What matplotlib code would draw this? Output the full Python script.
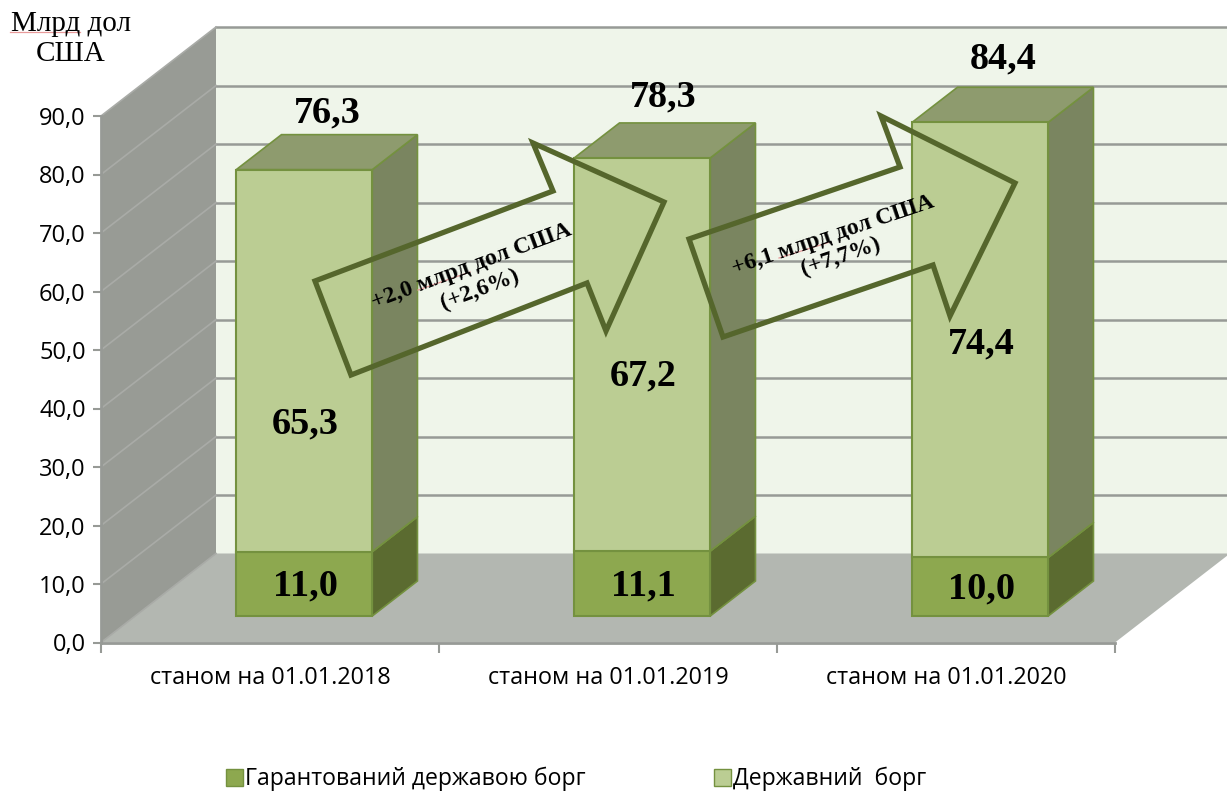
#!/usr/bin/env python3
"""Stacked pseudo-3D column chart of Ukrainian debt, 2018-2020."""

import matplotlib
matplotlib.use("Agg")
import matplotlib.pyplot as plt
from matplotlib.patches import Patch, Polygon

W, H = 1227, 791

CATEGORIES = ["станом на 01.01.2018", "станом на 01.01.2019", "станом на 01.01.2020"]
GUARANTEED = [11.0, 11.1, 10.0]
STATE = [65.3, 67.2, 74.4]
GUARANTEED_LABELS = ["11,0", "11,1", "10,0"]
STATE_LABELS = ["65,3", "67,2", "74,4"]
TOTAL_LABELS = ["76,3", "78,3", "84,4"]
Y_TICKS = [0, 10, 20, 30, 40, 50, 60, 70, 80, 90]

# pixel geometry of the fake 3D projection
X0_PX, Y0_PX = 101, 642.5
PX_PER_CAT = 338
PX_PER_VAL = 5.85
DEPTH_X = 115 / PX_PER_CAT  # full depth of the box, in data units
DEPTH_Y = 89 / PX_PER_VAL
BAR_D0 = 0.298  # where the bars start in the depth
BAR_D1 = 0.691
BAR_WIDTH = 136 / PX_PER_CAT

# hand placed labels in the original, so pixel centres
STATE_LABEL_PX = [(305, 424), (643, 376), (981, 344)]
TOTAL_LABEL_PX = [(327, 113), (663, 97), (1003, 59)]

WALL_BACK = "#eff5ea"
WALL_SIDE = "#989b95"
FLOOR = "#b3b7b1"
GRID = "#979a96"
GRID_SIDE = "#a9aba7"
LIGHT = ("#bbcd93", "#7a8560", "#8e9b6e", "#74913f")
DARK = ("#8da84f", "#5b6b30", "#6f8540", "#74913f")
ARROW = "#55662c"
SANS = "Open Sans"
SERIF = "Liberation Serif"


def from_px(px, py):
    return (px - X0_PX) / PX_PER_CAT, (Y0_PX - py) / PX_PER_VAL


def depth(x, y, d):
    return x + DEPTH_X * d, y + DEPTH_Y * d


def face(ax, pts, color, edge=None, lw=0, z=1):
    ax.add_patch(Polygon(pts, closed=True, facecolor=color, edgecolor=edge or color,
                         linewidth=lw, joinstyle="miter", zorder=z))


def draw_box(ax, i, bottom, height, colors, z):
    front, side, top, edge = colors
    left = i + 0.5 - BAR_WIDTH / 2
    right = i + 0.5 + BAR_WIDTH / 2
    x0, y0 = depth(0, bottom, BAR_D0)
    ytop = y0 + height
    dx = DEPTH_X * (BAR_D1 - BAR_D0)
    dy = DEPTH_Y * (BAR_D1 - BAR_D0)
    face(ax, [(right + x0, y0), (right + x0 + dx, y0 + dy),
              (right + x0 + dx, ytop + dy), (right + x0, ytop)], side, edge, 1.2, z)
    face(ax, [(left + x0, ytop), (right + x0, ytop),
              (right + x0 + dx, ytop + dy), (left + x0 + dx, ytop + dy)], top, edge, 1.2, z)
    ax.bar(i + 0.5 + x0, height, width=BAR_WIDTH, bottom=y0, color=front,
           edgecolor=edge, linewidth=1.5, zorder=z + 0.1)
    return i + 0.5 + x0, y0 + height / 2


def draw_arrow(ax, xs, ys):
    pts = [from_px(x, y) for x, y in zip(xs, ys)]
    ax.add_patch(Polygon(pts, closed=True, fill=False, edgecolor=ARROW, linewidth=3.8,
                         joinstyle="miter", zorder=6))


def squiggle(ax, x0, y0, x1, y1):
    a, b = from_px(x0, y0), from_px(x1, y1)
    ax.plot([a[0], b[0]], [a[1], b[1]], color="#e89a9a", lw=0.9, zorder=8)


def value_label(ax, x, y, text):
    ax.text(x, y, text, family=SERIF, weight="bold", fontsize=27.5,
            ha="center", va="center", zorder=9)


def main():
    fig = plt.figure(figsize=(W / 100, H / 100), dpi=100, facecolor="white")
    ax = fig.add_axes([0, 0, 1, 1])
    ax.set_xlim(-X0_PX / PX_PER_CAT, (W - X0_PX) / PX_PER_CAT)
    ax.set_ylim((Y0_PX - H) / PX_PER_VAL, Y0_PX / PX_PER_VAL)
    ax.patch.set_visible(False)

    n = len(CATEGORIES)
    top = Y_TICKS[-1]

    # walls and floor
    bx, by = depth(0, 0, 1)
    face(ax, [(bx, by), (bx + n, by), (bx + n, by + top), (bx, by + top)], WALL_BACK)
    face(ax, [(0, 0), (bx, by), (bx, by + top), (0, top)], WALL_SIDE)
    face(ax, [(0, 0), (n, 0), (bx + n, by), (bx, by)], FLOOR)

    for v in Y_TICKS:
        if v > 0:
            ax.plot([bx, bx + n], [by + v, by + v], color=GRID, lw=1.8, zorder=1.5)
        ax.plot([0, bx], [v, by + v], color=GRID_SIDE, lw=1.2, zorder=1.5)

    # columns: the lower box goes first so the upper one hides its top face
    for i in range(n):
        cx, cy = draw_box(ax, i, 0, GUARANTEED[i], DARK, 2)
        value_label(ax, cx + 1 / PX_PER_CAT, cy - 2 / PX_PER_VAL, GUARANTEED_LABELS[i])
        draw_box(ax, i, GUARANTEED[i], STATE[i], LIGHT, 3)
        value_label(ax, *from_px(*STATE_LABEL_PX[i]), STATE_LABELS[i])
        value_label(ax, *from_px(*TOTAL_LABEL_PX[i]), TOTAL_LABELS[i])

    # growth arrows and captions
    draw_arrow(ax, [315, 553, 533, 664, 606, 587, 351], [281, 191, 143, 202, 331, 283, 375])
    draw_arrow(ax, [689, 900, 881, 1015, 950, 933, 723], [239, 167, 116, 183, 316, 265, 337])
    x, y = from_px(476, 278)
    ax.text(x, y, "+2,0 млрд дол США\n(+2,6%)", family=SERIF, weight="bold", fontsize=17,
            rotation=20.4, rotation_mode="anchor", ha="center", va="center",
            linespacing=1.25, zorder=9)
    x, y = from_px(837, 246)
    ax.text(x, y, "+6,1 млрд дол США\n(+7,7%)", family=SERIF, weight="bold", fontsize=17,
            rotation=18.6, rotation_mode="anchor", ha="center", va="center",
            linespacing=1.15, zorder=9)

    # unit caption
    x, y = from_px(71, 39)
    ax.text(x, y, "Млрд дол\nСША", family=SERIF, fontsize=21, ha="center", va="center",
            linespacing=1.2, zorder=9)
    squiggle(ax, 10, 32, 80, 32)
    squiggle(ax, 418, 290, 470, 272)
    squiggle(ax, 779, 258, 830, 242)

    # axes drawn on the front plane
    for name in ("top", "right"):
        ax.spines[name].set_visible(False)
    ax.spines["left"].set_position(("data", 0))
    ax.spines["left"].set_bounds(0, top)
    ax.spines["bottom"].set_position(("data", 0))
    ax.spines["bottom"].set_bounds(0, n)
    for name in ("left", "bottom"):
        ax.spines[name].set_color(GRID)
        ax.spines[name].set_linewidth(2)
        ax.spines[name].set_zorder(2)

    ax.set_yticks(Y_TICKS)
    ax.set_yticklabels([f"{v:.1f}".replace(".", ",") for v in Y_TICKS], family=SANS, fontsize=17)
    ax.tick_params(axis="y", direction="out", length=6, width=1.5, color=GRID, pad=5)
    ax.set_xticks(range(n + 1))
    ax.set_xticklabels([])
    ax.tick_params(axis="x", which="major", direction="out", length=7, width=1.5, color=GRID)
    ax.set_xticks([i + 0.5 for i in range(n)], minor=True)
    ax.set_xticklabels(CATEGORIES, minor=True, family=SANS, fontsize=16.8)
    ax.tick_params(axis="x", which="minor", length=0, pad=17)

    handles = [
        Patch(facecolor=DARK[0], edgecolor=DARK[3], label="Гарантований державою борг"),
        Patch(facecolor=LIGHT[0], edgecolor=DARK[3], label="Державний  борг"),
    ]
    ax.legend(handles=handles, ncol=2, frameon=False, loc="center",
              bbox_to_anchor=(576 / W, 1 - 779 / H), prop={"family": SANS, "size": 16.6},
              handlelength=0.75, handleheight=0.75, handletextpad=0.08, columnspacing=5.57)

    fig.savefig("out.png", dpi=100, facecolor="white")
    plt.close(fig)


if __name__ == "__main__":
    main()
